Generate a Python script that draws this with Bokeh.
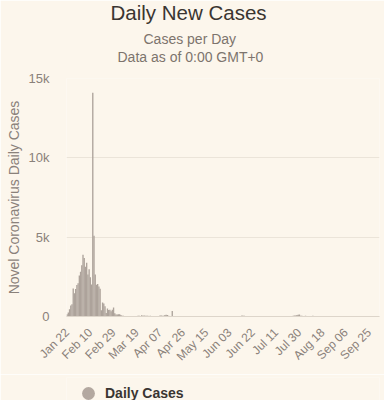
import numpy as np
from bokeh.plotting import figure
from bokeh.layouts import column
from bokeh.models import Range1d, FixedTicker, Legend, LegendItem, ColumnDataSource, Title
from bokeh.embed import file_html
from bokeh.resources import INLINE

# Daily new cases, Jan 22 .. Oct 3
jan = [140, 259, 457, 688, 769, 1771, 1459, 1737, 1981, 2099]
feb = [2589, 2825, 3235, 3884, 3694, 3143, 3385, 2652, 2973, 2467, 2015, 14108, 5090, 2641,
       2008, 2048, 1888, 1749, 391, 889, 823, 648, 214, 508, 406, 433, 327, 427, 573]
mar = [202, 125, 119, 139, 143, 99, 44, 40, 19, 24, 15, 8, 11, 20, 16, 21, 13, 34, 39, 41,
       46, 39, 78, 47, 67, 55, 54, 45, 31, 48, 36]
apr = [35, 31, 19, 30, 39, 32, 62, 63, 42, 46, 99, 108, 89, 46, 26, 27, 352, 16, 12, 11,
       30, 10, 10, 6, 12, 3, 6, 22, 4, 3]
may = [12, 2, 3, 1, 2, 4, 1, 6, 14, 17, 7, 15, 3, 8, 5, 5, 7, 6, 3, 7, 4, 0, 3, 11, 7, 5,
       1, 2, 4, 2, 16]
jun = [5, 1, 6, 7, 5, 5, 3, 3, 3, 3, 1, 8, 57, 49, 40, 32, 25, 32, 25, 26, 22, 25, 12, 18,
       19, 13, 17, 20, 19, 7]
jul = [3, 5, 3, 6, 8, 3, 5, 7, 3, 4, 7, 8, 4, 3, 5, 9, 3, 8, 22, 13, 14, 22, 25, 21, 46,
       61, 68, 101, 105, 127, 45]
aug = [49, 36, 36, 43, 27, 37, 32, 23, 23, 44, 13, 13, 19, 22, 22, 18, 13, 18, 17, 22, 22,
       22, 16, 12, 15, 14, 9, 11, 11, 5, 8]
sep = [9, 5, 11, 10, 10, 10, 10, 6, 7, 10, 10, 9, 14, 10, 7, 12, 32, 14, 10, 13, 7, 14, 12,
       14, 6, 9, 14, 21, 7, 21]
oct_ = [11, 20, 20]

daily_cases = jan + feb + mar + apr + may + jun + jul + aug + sep + oct_

tick_labels = ["Jan 22", "Feb 10", "Feb 29", "Mar 19", "Apr 07", "Apr 26", "May 15",
               "Jun 03", "Jun 22", "Jul 11", "Jul 30", "Aug 18", "Sep 06", "Sep 25"]
tick_step = 19

y_ticks = [0, 5000, 10000, 15000]
y_tick_labels = ["0", "5k", "10k", "15k"]

BG = "#fcf6ec"
BAR = "#ada39b"
FONT = "Liberation Sans"
SUB = "#7d746d"

n = len(daily_cases)
src = ColumnDataSource(dict(x=list(range(n)), y=daily_cases))

p = figure(width=384, height=374, output_backend="svg", toolbar_location=None,
           x_range=Range1d(-0.5, n - 0.5), y_range=Range1d(0, 15000),
           min_border_left=66, min_border_right=5, min_border_top=77, min_border_bottom=58)
p.background_fill_color = BG
p.border_fill_color = BG
p.outline_line_color = None

bars = p.vbar(x="x", top="y", width=1.1, source=src, fill_color=BAR, line_color=None)

# axes
p.xaxis.ticker = FixedTicker(ticks=[i * tick_step for i in range(len(tick_labels))])
p.xaxis.major_label_overrides = {i * tick_step: t for i, t in enumerate(tick_labels)}
p.xaxis.major_label_orientation = np.pi / 4
p.xaxis.major_label_text_font = FONT
p.xaxis.major_label_text_font_size = "12px"
p.xaxis.major_label_text_color = "#8a817a"
p.xaxis.major_tick_line_color = None
p.xaxis.major_tick_out = 0
p.xaxis.major_tick_in = 0
p.xaxis.minor_tick_line_color = None
p.xaxis.axis_line_color = "#ddd5ca"
p.xaxis.major_label_standoff = 14

p.yaxis.ticker = FixedTicker(ticks=y_ticks)
p.yaxis.major_label_overrides = {v: t for v, t in zip(y_ticks, y_tick_labels)}
p.yaxis.major_label_text_font = FONT
p.yaxis.major_label_text_font_size = "13px"
p.yaxis.major_label_text_color = "#8a817a"
p.yaxis.major_tick_line_color = None
p.yaxis.major_tick_out = 0
p.yaxis.major_tick_in = 0
p.yaxis.minor_tick_line_color = None
p.yaxis.axis_line_color = None
p.yaxis.major_label_standoff = 17
p.yaxis.axis_label = "Novel Coronavirus Daily Cases"
p.yaxis.axis_label_text_font = FONT
p.yaxis.axis_label_text_font_size = "14px"
p.yaxis.axis_label_text_font_style = "normal"
p.yaxis.axis_label_text_color = "#8a817a"
p.yaxis.axis_label_standoff = 4

p.xgrid.grid_line_color = None
p.ygrid.grid_line_color = "#ebe4d9"

# titles (added from the frame outward)
p.add_layout(Title(text=" ", align="center", text_font=FONT, text_font_size="1px",
                   standoff=11), "above")
p.add_layout(Title(text="Data as of 0:00 GMT+0", align="left", offset=51, text_font=FONT,
                   text_font_size="14px", text_font_style="normal", text_color=SUB,
                   standoff=0), "above")
p.add_layout(Title(text="Cases per Day", align="left", offset=77, text_font=FONT,
                   text_font_size="14px", text_font_style="normal", text_color=SUB,
                   standoff=0), "above")
p.add_layout(Title(text=" ", align="center", text_font=FONT, text_font_size="1px",
                   standoff=0), "above")
p.add_layout(Title(text="Daily New Cases", align="left", offset=44, text_font=FONT,
                   text_font_size="20.5px", text_font_style="normal", text_color="#3a3531",
                   vertical_align="top", standoff=0), "above")

# legend strip (its frame lines up with the chart's frame in the column)
lg = figure(width=384, height=26, output_backend="svg", toolbar_location=None,
            x_range=Range1d(0, 1), y_range=Range1d(0, 1),
            min_border_left=66, min_border_right=5, min_border_top=3, min_border_bottom=0)
lg.axis.visible = False
lg.grid.visible = False
lg.outline_line_color = None
lg.background_fill_color = BG
lg.border_fill_color = BG
marker = lg.scatter(x="x", y="y", source=src, marker="circle", size=13,
                    fill_color="#b3a8a0", line_color=None)
legend = Legend(items=[LegendItem(label="Daily Cases", renderers=[marker])],
                location=(6, -9), orientation="horizontal",
                background_fill_alpha=0, border_line_color=None,
                label_text_font=FONT, label_text_font_size="14px",
                label_text_font_style="bold", label_text_color="#3a3531",
                glyph_width=32, glyph_height=32, label_standoff=1, padding=0, margin=0)
lg.add_layout(legend, "center")

open("out.html", "w").write(file_html(column(p, lg, spacing=0), INLINE))
